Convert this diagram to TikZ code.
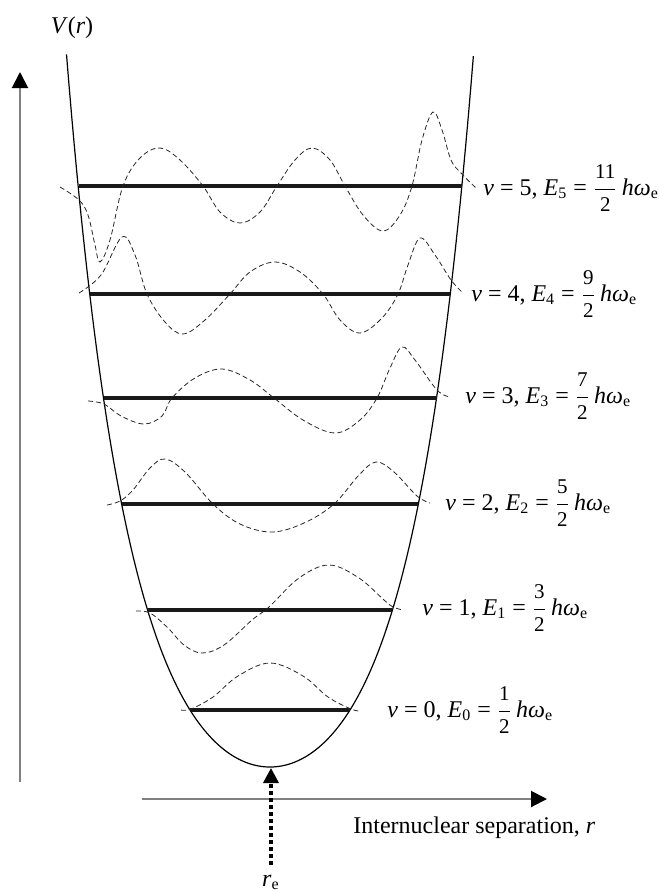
\documentclass[tikz,border=0pt]{standalone}
\usepackage{amsmath}
\usepackage{fontspec}
\setmainfont{Liberation Serif}
\usetikzlibrary{arrows.meta}
\newcommand{\fnum}[1]{\text{\fontsize{10.5}{12}\selectfont #1}}
\newcommand{\levlab}[3]{\textit{v} = #1, \textit{E}\textsubscript{#1} = $\genfrac{}{}{0.4pt}{0}{\fnum{#2}}{\fnum{#3}}$\,\textit{hω}\textsubscript{e}}
\begin{document}
\begin{tikzpicture}[x=0.5pt,y=-0.5pt,
  pot/.style={black,line width=0.6pt},
  levelline/.style={black!90,line width=2.2pt},
  wave/.style={black!85,line width=0.4pt,dash pattern=on 2.5pt off 1.5pt},
  axis/.style={black!50,line width=1pt,-{Triangle[length=8pt,width=8pt,color=black]}},
  rearrow/.style={black,line width=1.7pt,dash pattern=on 2pt off 1.5pt,-{Triangle[length=7.5pt,width=7.5pt]}},
  lab/.style={anchor=base west,inner sep=0pt,font=\fontsize{12}{14}\selectfont}]
\useasboundingbox (0,0) rectangle (659,890);
% axes
\coordinate (yb) at (20,782);
\coordinate (yt) at (20,72);
\coordinate (xl) at (142,799);
\coordinate (xr) at (547,799);
\draw[axis] (yb) -- (yt);
\draw[axis] (xl) -- (xr);
\node[lab,anchor=base] (vr) at (72,33) {\textit{V}(\textit{r})};
\node[lab] (xlab) at (353,833) {Internuclear separation, \textit{r}};
% potential
\draw[pot] plot[domain=-2.035:2.035,samples=160,variable=\u] ({270+100*\u},{767-79*\u*\u*exp(0.188*\u*\u)});
% r_e arrow
\coordinate (rebot) at (271,865);
\coordinate (retop) at (271,768);
\draw[rearrow] (rebot) -- (retop);
\node[lab,anchor=base] (re) at (271,886) {\textit{r}\textsubscript{e}};
% levels
\draw[levelline] (78.5,186) -- (461.5,186);
\draw[levelline] (89.7,294) -- (450.3,294);
\draw[levelline] (103.5,398) -- (436.5,398);
\draw[levelline] (121.7,504) -- (418.3,504);
\draw[levelline] (147.6,610) -- (392.4,610);
\draw[levelline] (190,710) -- (350,710);
% wavefunctions
\draw[wave] plot[smooth,tension=0.6] coordinates {(181,710) (191,709) (213,697) (238,676) (270,663) (303,676) (328,697) (351,709) (360,711)};
\draw[wave] plot[smooth,tension=0.6] coordinates {(136,611) (150,613) (168,628) (184,645) (202,653) (224,645) (252,620) (269,607) (299,578) (329,565) (359,578) (384,600) (393,607) (403,610)};
\draw[wave] plot[smooth,tension=0.6] coordinates {(107,505) (120,501) (133,490) (150,468) (165,459) (185,472) (213,504) (240,524) (272,532) (304,523) (334,504) (359,475) (376,462) (394,472) (417,496) (430,503)};
\draw[wave] plot[smooth,tension=0.6] coordinates {(88,401) (104,404) (121,416) (144,424) (162,416) (172,398) (195,378) (222,369) (250,380) (274,398) (303,420) (335,433) (360,420) (377,398) (390,368) (402,347) (415,360) (437,390) (450,397)};
\draw[wave] plot[smooth,tension=0.6] coordinates {(79,293) (101,275) (122,237) (135,255) (147,294) (165,322) (183,334) (205,320) (230,294) (250,272) (275,262) (300,272) (323,294) (340,320) (360,333) (382,318) (398,294) (408,265) (420,238) (435,255) (451,280) (463,293)};
\draw[wave] plot[smooth,tension=0.6] coordinates {(60,187) (79,200) (88,215) (95,245) (100,262) (110,240) (123,186) (140,158) (160,148) (180,160) (203,186) (220,212) (240,223) (260,212) (277,186) (295,160) (312,148) (330,160) (345,186) (363,215) (383,231) (400,215) (412,186) (422,140) (433,112) (442,130) (451,160) (461,173) (476,188)};
% labels
\node[lab] (l5) at (483,195) {\levlab{5}{11}{2}};
\node[lab] (l4) at (471,301) {\levlab{4}{9}{2}};
\node[lab] (l3) at (465,403) {\levlab{3}{7}{2}};
\node[lab] (l2) at (445,510) {\levlab{2}{5}{2}};
\node[lab] (l1) at (422,615) {\levlab{1}{3}{2}};
\node[lab] (l0) at (387,717) {\levlab{0}{1}{2}};
\end{tikzpicture}
\end{document}
